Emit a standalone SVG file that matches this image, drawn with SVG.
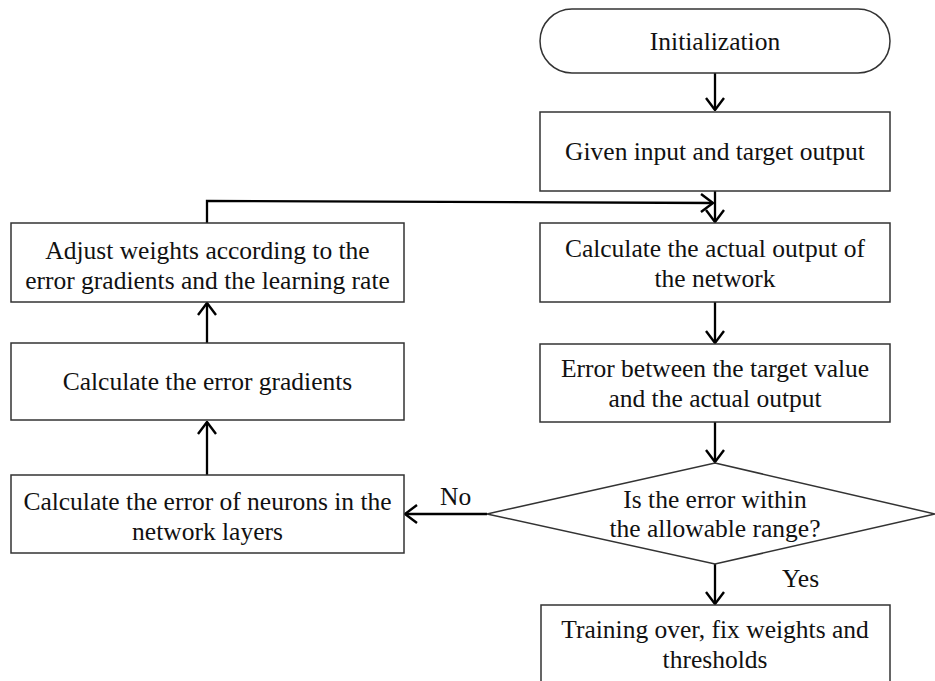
<svg xmlns="http://www.w3.org/2000/svg" width="935" height="681" viewBox="0 0 935 681">
<defs>
<style>
.box{fill:#fff;stroke:#333;stroke-width:1.5}
.t{font-family:"Liberation Serif","Times New Roman",serif;font-size:25.5px;fill:#111;text-anchor:middle}
.lbl{font-family:"Liberation Serif","Times New Roman",serif;font-size:25.5px;fill:#111}
.c{fill:none;stroke:#000;stroke-width:2.3}
</style>
<marker id="ah" viewBox="0 0 14 20" refX="13" refY="10" markerWidth="14" markerHeight="20" markerUnits="userSpaceOnUse" orient="auto">
<path d="M1,1 L13,10 L1,19" fill="none" stroke="#000" stroke-width="2.4"/>
</marker>
</defs>
<rect width="935" height="681" fill="#fff"/>
<g id="connectors">
<line class="c" x1="715" y1="73" x2="715" y2="110" marker-end="url(#ah)"/>
<line class="c" x1="715" y1="191" x2="715" y2="222" marker-end="url(#ah)"/>
<polyline class="c" points="207,223 207,201 713,203" marker-end="url(#ah)"/>
<line class="c" x1="715" y1="302" x2="715" y2="343" marker-end="url(#ah)"/>
<line class="c" x1="715" y1="422" x2="715" y2="462" marker-end="url(#ah)"/>
<line class="c" x1="715" y1="564" x2="715" y2="604" marker-end="url(#ah)"/>
<line class="c" x1="487" y1="514" x2="405" y2="514" marker-end="url(#ah)"/>
<line class="c" x1="207" y1="475" x2="207" y2="422" marker-end="url(#ah)"/>
<line class="c" x1="207" y1="343" x2="207" y2="303" marker-end="url(#ah)"/>
<text class="lbl" x="440" y="505">No</text>
<text class="lbl" x="782" y="587">Yes</text>
</g>
<g id="init">
<rect class="box" x="540" y="9" width="350" height="64" rx="32" ry="32"/>
<text class="t" x="715" y="50">Initialization</text>
</g>
<g id="given">
<rect class="box" x="540" y="112" width="350" height="79"/>
<text class="t" x="715" y="160">Given input and target output</text>
</g>
<g id="actual">
<rect class="box" x="540" y="223" width="350" height="79"/>
<text class="t" x="715" y="257">Calculate the actual output of</text>
<text class="t" x="715" y="287">the network</text>
</g>
<g id="errorval">
<rect class="box" x="540" y="344" width="350" height="78"/>
<text class="t" x="715" y="377">Error between the target value</text>
<text class="t" x="715" y="407">and the actual output</text>
</g>
<g id="decision">
<polygon class="box" points="715,463 935,514 715,564 487,514"/>
<text class="t" x="715" y="508">Is the error within</text>
<text class="t" x="715" y="537">the allowable range?</text>
</g>
<g id="final">
<rect class="box" x="541" y="605" width="349" height="90"/>
<text class="t" x="715" y="638">Training over, fix weights and</text>
<text class="t" x="715" y="668">thresholds</text>
</g>
<g id="adjust">
<rect class="box" x="11" y="223" width="393" height="79"/>
<text class="t" x="207.5" y="259">Adjust weights according to the</text>
<text class="t" x="207.5" y="289">error gradients and the learning rate</text>
</g>
<g id="gradients">
<rect class="box" x="11" y="343" width="393" height="77"/>
<text class="t" x="207.5" y="390">Calculate the error gradients</text>
</g>
<g id="neurons">
<rect class="box" x="11" y="475" width="393" height="78"/>
<text class="t" x="207.5" y="510">Calculate the error of neurons in the</text>
<text class="t" x="207.5" y="540">network layers</text>
</g>
</svg>
